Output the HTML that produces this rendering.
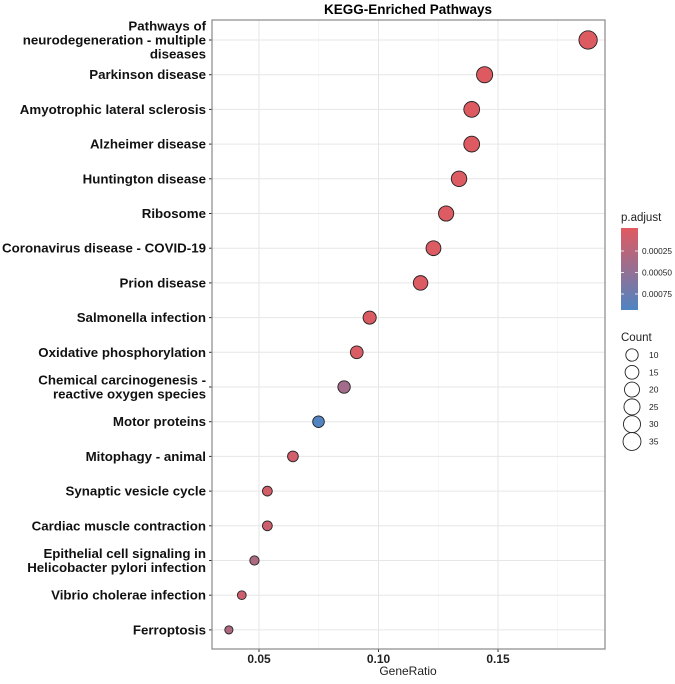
<!DOCTYPE html>
<html><head><meta charset="utf-8"><style>
body{margin:0;background:#fff;}
svg{font-family:"Liberation Sans",sans-serif;}
</style></head><body>
<svg id="chart" width="675" height="679">
<defs>
<linearGradient id="grad" x1="0" y1="0" x2="0" y2="1">
<stop offset="0" stop-color="#E05A60"/><stop offset="1" stop-color="#4F84C2"/>
</linearGradient>
</defs>
<text x="408" y="14" text-anchor="middle" font-weight="bold" font-size="13.5">KEGG-Enriched Pathways</text>
<g id="grid"></g>
<g id="ylabels"></g>
<g id="points"></g>
<g id="xaxis"></g>
<rect x="212" y="20" width="393" height="629" fill="none" stroke="#888" stroke-width="1.2"/>
<text x="408" y="675" text-anchor="middle" font-size="12" fill="#222">GeneRatio</text>
<g>
<text x="621" y="221" font-size="11.5" fill="#222">p.adjust</text>
<rect x="621" y="228" width="17" height="82" fill="url(#grad)"/>
<g id="cticks"></g>
</g>
<g>
<text x="621" y="341" font-size="11.5" fill="#222">Count</text>
<g id="sizelegend"></g>
</g>
</svg>
<script>
const categories=["Pathways of\nneurodegeneration - multiple\ndiseases","Parkinson disease","Amyotrophic lateral sclerosis","Alzheimer disease","Huntington disease","Ribosome","Coronavirus disease - COVID-19","Prion disease","Salmonella infection","Oxidative phosphorylation","Chemical carcinogenesis -\nreactive oxygen species","Motor proteins","Mitophagy - animal","Synaptic vesicle cycle","Cardiac muscle contraction","Epithelial cell signaling in\nHelicobacter pylori infection","Vibrio cholerae infection","Ferroptosis"];
const geneRatio=[0.1877,0.1444,0.1390,0.1390,0.1337,0.1283,0.1230,0.1176,0.0963,0.0909,0.0856,0.0749,0.0642,0.0535,0.0535,0.0481,0.0428,0.0374];
const counts=[35,27,26,26,25,24,23,22,18,17,16,14,12,10,10,9,8,7];
const padj=[0.00001,0.00001,0.00001,0.00001,0.00002,0.00002,0.00002,0.00002,0.00003,0.00004,0.0004,0.00093,0.0001,0.00008,0.00012,0.00033,0.00012,0.00032];
const xTicks=[0.05,0.10,0.15];
const xMinor=[0.075,0.125,0.175];
const cTicks=[0.00025,0.00050,0.00075];
const sizeLegend=[10,15,20,25,30,35];

const NS="http://www.w3.org/2000/svg";
function mk(t,a,p){const e=document.createElementNS(NS,t);for(const k in a)e.setAttribute(k,a[k]);p.appendChild(e);return e;}
const xs=v=>259+(v-0.05)*2390;
const ys=i=>40+i*34.7;
const rs=c=>Math.sqrt(c)*1.55;
const cs=p=>{const t=Math.min(1,p/0.00094);const a=[224,90,96],b=[79,132,194];return `rgb(${a.map((v,i)=>Math.round(v+(b[i]-v)*t)).join(",")})`;};
const cy=p=>229.5+p/0.00025*21.5;
const grid=document.getElementById('grid');
xMinor.forEach(v=>{const l=mk('line',{x1:xs(v),x2:xs(v),y1:20,y2:649,stroke:'#f0f0f0','stroke-width':0.6},grid);});
xTicks.forEach(v=>{const l=mk('line',{x1:xs(v),x2:xs(v),y1:20,y2:649,stroke:'#e6e6e6','stroke-width':1},grid);});
categories.forEach((c,i)=>{const l=mk('line',{x1:212,x2:605,y1:ys(i),y2:ys(i),stroke:'#e6e6e6','stroke-width':1},grid);});
const yl=document.getElementById('ylabels');
categories.forEach((c,i)=>{
 const lines=c.split("\n");
 const t=mk('text',{x:206,'text-anchor':'end','font-size':13.3,'font-weight':'bold',fill:'#111'},yl);
 
 
 const y0=ys(i)-(lines.length-1)*7+4.5;
 lines.forEach((s,j)=>{const ts=mk('tspan',{x:206,y:y0+j*14},t);ts.textContent=s;});
 const tk=mk('line',{x1:209,x2:212,y1:ys(i),y2:ys(i),stroke:'#333'},yl);
 
 
});
const pts=document.getElementById('points');
geneRatio.forEach((g,i)=>{
 const c=mk('circle',{cx:xs(g),cy:ys(i),r:rs(counts[i]),fill:cs(padj[i]),stroke:'#222','stroke-width':0.9},pts);
 
 
});
const xa=document.getElementById('xaxis');
xTicks.forEach(v=>{
 const tk=mk('line',{x1:xs(v),x2:xs(v),y1:649,y2:652,stroke:'#333'},xa);
 
 
 const t=mk('text',{x:xs(v),y:663,'text-anchor':'middle','font-size':12,'font-weight':'bold',fill:'#222'},xa);
 t.textContent=v.toFixed(2);
 
 
});
const ct=document.getElementById('cticks');
cTicks.forEach(v=>{
 const y=cy(v);
 const a=mk('line',{x1:621,x2:624,y1:y,y2:y,stroke:'#fff','stroke-width':0.8},ct);
 
 
 const b=mk('line',{x1:635,x2:638,y1:y,y2:y,stroke:'#fff','stroke-width':0.8},ct);
 
 
 const t=mk('text',{x:642,y:y+3,'font-size':8.3,fill:'#222'},ct);
 t.textContent=v.toFixed(5);
 
 
});
const sl=document.getElementById('sizelegend');
sizeLegend.forEach((s,i)=>{
 const y=355+i*17.3;
 const c=mk('circle',{cx:632,cy:y,r:3+rs(s)*0.65,fill:'#fff',stroke:'#222','stroke-width':0.9},sl);
 
 
 const t=mk('text',{x:649,y:y+3,'font-size':8.5,fill:'#222'},sl);
 t.textContent=s;
 
 
});
</script>
</body></html>
